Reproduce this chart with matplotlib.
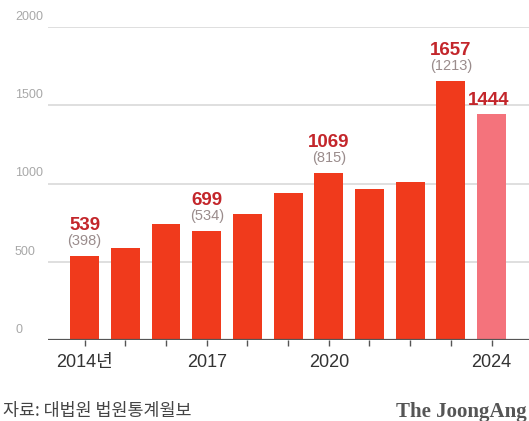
import matplotlib.pyplot as plt
from matplotlib.transforms import blended_transform_factory

# data
years = [2014, 2015, 2016, 2017, 2018, 2019, 2020, 2021, 2022, 2023, 2024]
totals = [539, 590, 744, 699, 808, 942, 1069, 962, 1010, 1657, 1444]
# labelled bars: total (bracketed figure)
labelled = {2014: 398, 2017: 534, 2020: 815, 2023: 1213}
year_labels = {2014: '2014년', 2017: '2017', 2020: '2020', 2024: '2024'}
y_ticks = [0, 500, 1000, 1500, 2000]

bar_red = '#f03a1c'
bar_pink = '#f4737c'
label_red = '#c3262b'

W, H = 529, 421
fig = plt.figure(figsize=(W / 100, H / 100), dpi=100)
ax = fig.add_axes([48 / W, 81 / H, (W - 48) / W, 313 / H], frameon=False)

x = list(range(len(years)))
colors = [bar_pink if y == 2024 else bar_red for y in years]
ax.bar(x, totals, width=0.71, color=colors, zorder=3)

ax.set_xlim(-0.9, 10.92)
ax.set_ylim(0, 2000)

# grid lines and baseline
for v in y_ticks[1:]:
    ax.axhline(v, color='#dcdcdc', lw=1.3, zorder=1)
ax.axhline(0, color='#555555', lw=1.6, zorder=4)

# y labels sit just above the grid lines, at the left edge of the figure
tr = blended_transform_factory(fig.transFigure, ax.transData)
for v in y_ticks:
    ax.annotate(str(v), xy=(15 / W, v), xycoords=tr, xytext=(0, 4),
                textcoords='offset pixels', ha='left', va='bottom',
                fontsize=9, color='#a8a8a8', family='Liberation Sans',
                annotation_clip=False)

ax.set_yticks([])
ax.set_xticks(x)
ax.set_xticklabels([year_labels.get(y, '') for y in years],
                   family=['Liberation Sans', 'Noto Sans CJK KR'],
                   fontsize=13, color='#333333')
ax.tick_params(axis='x', length=4, width=1, color='#555555', pad=6)

# value labels
for i, (y, v) in enumerate(zip(years, totals)):
    if y in labelled:
        ax.annotate(f'({labelled[y]})', xy=(i, v), xytext=(0, 8),
                    textcoords='offset pixels', ha='center', va='bottom',
                    fontsize=10.5, color='#9a8c8c', family='Liberation Sans')
        ax.annotate(str(v), xy=(i, v), xytext=(0, 22),
                    textcoords='offset pixels', ha='center', va='bottom',
                    fontsize=13.5, fontweight='bold', color=label_red,
                    family='Liberation Sans')
    elif y == 2024:
        ax.annotate(str(v), xy=(i, v), xytext=(-3, 5),
                    textcoords='offset pixels', ha='center', va='bottom',
                    fontsize=13.5, fontweight='bold', color=label_red,
                    family='Liberation Sans')

fig.text(3 / W, 1 - 411 / H, '자료: 대법원 법원통계월보', ha='left', va='center',
         fontsize=12.5, color='#444444', family='Noto Sans CJK KR')
fig.text(527 / W, 1 - 412 / H, 'The JoongAng', ha='right', va='center',
         fontsize=15, fontweight='bold', color='#555555',
         family='Liberation Serif')

fig.savefig('out.png', dpi=100)
